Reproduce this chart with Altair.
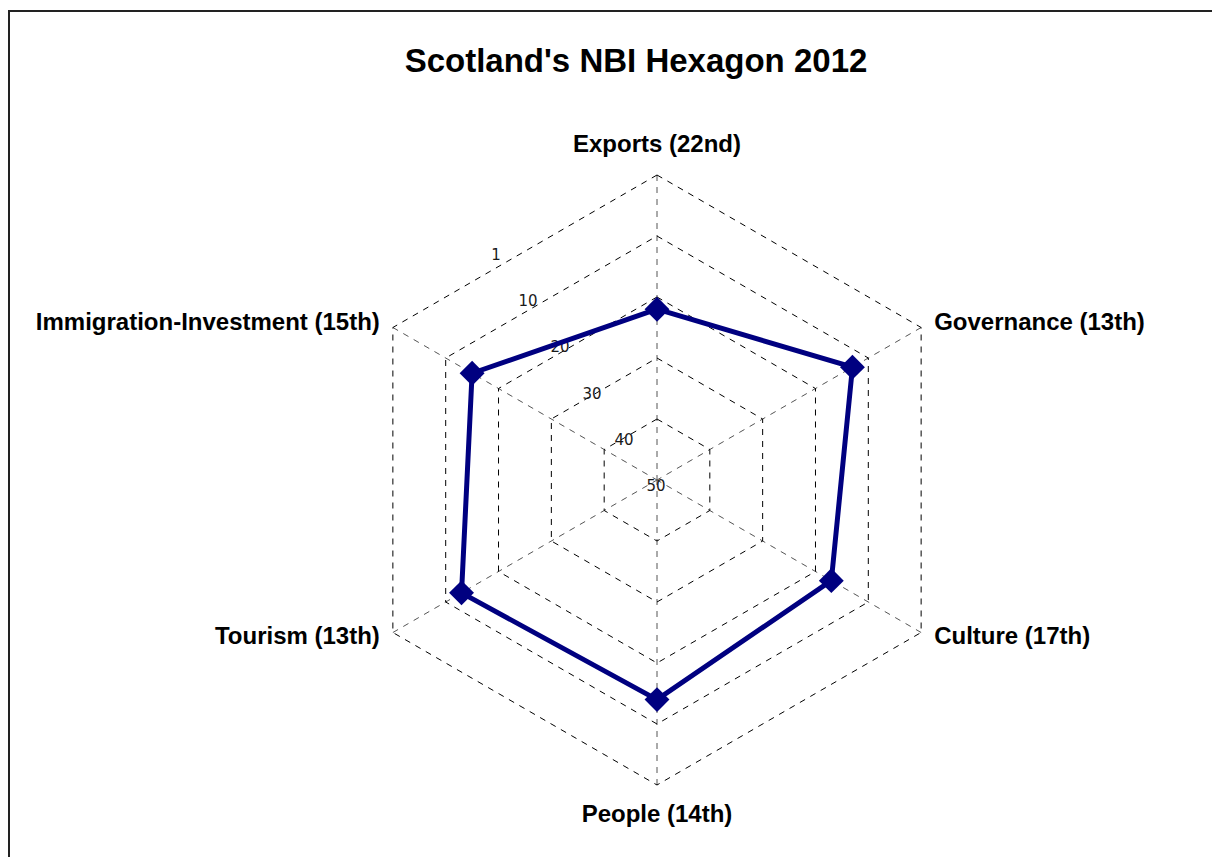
import altair as alt
import pandas as pd

# ---- data -----------------------------------------------------------------
axis_names = ["Exports (22nd)", "Governance (13th)", "Culture (17th)",
              "People (14th)", "Tourism (13th)", "Immigration-Investment (15th)"]
ranks = [22, 13, 17, 14, 13, 15]
ring_values = [0, 10, 20, 30, 40, 50]
ring_labels = ["1", "10", "20", "30", "40", "50"]
title_text = ["Scotland's NBI Hexagon 2012"]

# ---- layout (pixels inside the view) ----------------------------------------
W, H = 1204, 849
CX, CY, R = 649, 472, 305
MAXR = 50
N = len(axis_names)
NAVY = "#000080"
FONT = "Liberation Sans"

xs = alt.Scale(domain=[0, W], nice=False, zero=False)
ys = alt.Scale(domain=[0, H], nice=False, zero=False, reverse=True)
X = alt.X("px:Q", scale=xs, axis=None)
Y = alt.Y("py:Q", scale=ys, axis=None)


def polar(chart, vfield, kfield):
    return (chart
            .transform_calculate(rr=f"{R}*({MAXR}-datum.{vfield})/{MAXR}")
            .transform_calculate(ang=f"2*PI*datum.{kfield}/{N}")
            .transform_calculate(px=f"{CX}+datum.rr*sin(datum.ang)")
            .transform_calculate(py=f"{CY}-datum.rr*cos(datum.ang)")
            .transform_calculate(cxv=f"{CX}", cyv=f"{CY}"))


# rings
ring_df = pd.DataFrame([{"ring": v, "k": k} for v in ring_values for k in range(N + 1)])
rings = polar(alt.Chart(ring_df), "ring", "k").mark_line(
    color="black", strokeWidth=1, strokeDash=[6, 6]
).encode(x=X, y=Y, detail="ring:N", order="k:Q")

# spokes
spoke_df = pd.DataFrame({"k": list(range(N)), "v": [ring_values[0]] * N})
spokes = polar(alt.Chart(spoke_df), "v", "k").mark_rule(
    color="#555555", strokeWidth=1, strokeDash=[6, 6]
).encode(x=X, y=Y, x2="cxv:Q", y2="cyv:Q")

# ring labels
rl_df = pd.DataFrame({"ring": ring_values, "label": ring_labels})
ring_text = (alt.Chart(rl_df)
             .transform_calculate(rr=f"{R}*({MAXR}-datum.ring)/{MAXR}")
             .transform_calculate(px=f"{CX}-1-0.921*datum.rr*sin(0.606)")
             .transform_calculate(py=f"{CY}+6-0.921*datum.rr*cos(0.606)")
             .mark_text(font="DejaVu Sans", fontSize=15, color="#1a1a1a",
                        align="center", baseline="middle")
             .encode(x=X, y=Y, text="label:N"))

# data polygon
series_df = pd.DataFrame({"k": list(range(N + 1)),
                          "rank": ranks + ranks[:1]})
poly = polar(alt.Chart(series_df), "rank", "k").mark_line(
    color=NAVY, strokeWidth=5, strokeJoin="miter"
).encode(x=X, y=Y, order="k:Q")

pts_df = pd.DataFrame({"k": list(range(N)), "rank": ranks, "name": axis_names})
pts = polar(alt.Chart(pts_df), "rank", "k").mark_point(
    shape="diamond", filled=True, size=620, color=NAVY, opacity=1
).encode(x=X, y=Y)

# axis labels
lab_df = pd.DataFrame({"k": list(range(N)), "name": axis_names, "v": [ring_values[0]] * N})


def labels(filt, align):
    return (polar(alt.Chart(lab_df), "v", "k")
            .transform_calculate(s="sin(datum.ang)", c="cos(datum.ang)")
            .transform_filter(filt)
            .transform_calculate(
                lx="datum.px + (abs(datum.s) < 0.1 ? 0 : (datum.s > 0 ? 13 : -13))",
                ly="datum.py + (abs(datum.s) < 0.1 ? -30*datum.c : -9*datum.c)")
            .mark_text(font=FONT, fontSize=24, fontWeight="bold", color="black",
                       align=align, baseline="middle")
            .encode(x=alt.X("lx:Q", scale=xs, axis=None),
                    y=alt.Y("ly:Q", scale=ys, axis=None),
                    text="name:N"))


lab_c = labels("abs(datum.s) < 0.1", "center")
lab_l = labels("datum.s >= 0.1", "left")
lab_r = labels("datum.s <= -0.1", "right")

# title
title = alt.Chart(pd.DataFrame({"t": title_text})).mark_text(
    font=FONT, fontSize=33, fontWeight="bold", color="black",
    align="center", baseline="middle"
).encode(x=alt.value(628), y=alt.value(54), text="t:N")

# frame (top and left edges)
frame_top = alt.Chart(pd.DataFrame({"a": [0]})).mark_rule(
    color="#222222", strokeWidth=2
).encode(x=alt.value(0), x2=alt.value(W), y=alt.value(3))
frame_left = alt.Chart(pd.DataFrame({"a": [0]})).mark_rule(
    color="#222222", strokeWidth=2
).encode(x=alt.value(1), y=alt.value(3), y2=alt.value(H))

chart = alt.layer(
    frame_top, frame_left, spokes, rings, ring_text, poly, pts,
    lab_c, lab_l, lab_r, title
).properties(
    width=W, height=H,
    autosize=alt.AutoSizeParams(type="none"),
    padding=0,
).configure_view(stroke="transparent")

chart.save("out.html", embed_options={"renderer": "svg", "actions": False})
